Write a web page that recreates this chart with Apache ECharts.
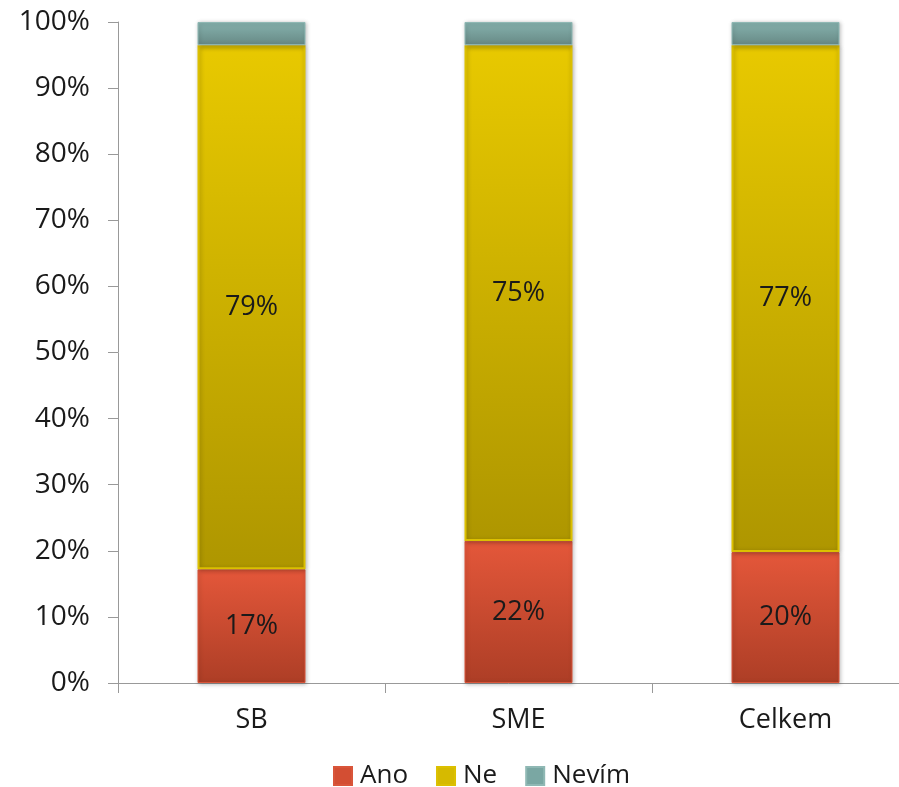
<!DOCTYPE html>
<html>
<head>
<meta charset="utf-8">
<script src="https://cdn.jsdelivr.net/npm/echarts@6/dist/echarts.min.js"></script>
<style>html,body{margin:0;padding:0;background:#fff}#c{width:899px;height:787px}</style>
</head>
<body>
<div id="c"></div>
<script>
var categories = ['SB', 'SME', 'Celkem'];
var ano = [17.2, 21.5, 19.8];
var ne = [79.3, 75.0, 76.7];
var nevim = [3.5, 3.5, 3.5];
var yTicks = [0, 10, 20, 30, 40, 50, 60, 70, 80, 90, 100];

var FONT = '"Open Sans", "Noto Sans", sans-serif';
function grad(top, bottom) {
  return new echarts.graphic.LinearGradient(0, 0, 0, 1, [
    {offset: 0, color: top}, {offset: 1, color: bottom}
  ]);
}
var chart = echarts.init(document.getElementById('c'));
var lbl = {
  show: true, position: 'inside', color: '#1a1a1a', fontSize: 27, fontFamily: FONT,
  formatter: function (p) { return Math.round(p.value) + '%'; }
};
chart.setOption({
  backgroundColor: '#ffffff',
  animation: false,
  grid: {left: 118, top: 22, bottom: 104, right: -20, outerBoundsMode: 'none', containLabel: false},
  legend: {
    top: 758, left: 328, itemWidth: 18, itemHeight: 18, itemGap: 28,
    textStyle: {fontSize: 26, fontFamily: FONT, color: '#1a1a1a', padding: [0, 0, 0, 3]},
    data: [
      {name: 'Ano', icon: 'rect', itemStyle: {color: '#d34e33'}},
      {name: 'Ne', icon: 'rect', itemStyle: {color: '#d6ba00'}},
      {name: 'Nevím', icon: 'rect', itemStyle: {color: '#7aa7a3'}}
    ]
  },
  xAxis: {
    type: 'category', data: categories,
    axisLine: {lineStyle: {color: '#999', width: 1}},
    axisTick: {show: true, length: 10, lineStyle: {color: '#999'}},
    axisLabel: {fontSize: 27, fontFamily: FONT, color: '#1a1a1a', margin: 24}
  },
  yAxis: {
    type: 'value', min: 0, max: 100, interval: 10,
    axisLine: {show: true, lineStyle: {color: '#999'}},
    axisTick: {show: true, inside: false, length: 10, lineStyle: {color: '#999'}},
    splitLine: {show: false},
    axisLabel: {
      fontSize: 28, fontFamily: FONT, color: '#1a1a1a', margin: 28,
      formatter: function (v) { return yTicks.indexOf(v) >= 0 ? v + '%' : ''; }
    }
  },
  series: [
    {name: 'Ano', type: 'bar', stack: 's', barWidth: 108, data: ano, label: lbl,
     itemStyle: {color: grad('#e4573a', '#ad3e26'), borderColor: '#d9553a', borderWidth: 1,
       shadowColor: 'rgba(0,0,0,0.25)', shadowBlur: 4, shadowOffsetX: 1, shadowOffsetY: 1}},
    {name: 'Ne', type: 'bar', stack: 's', barWidth: 108, data: ne, label: lbl,
     itemStyle: {color: grad('#e8c900', '#ae9600'), borderColor: '#dcc000', borderWidth: 2,
       shadowColor: 'rgba(0,0,0,0.25)', shadowBlur: 4, shadowOffsetX: 1, shadowOffsetY: 1}},
    {name: 'Nevím', type: 'bar', stack: 's', barWidth: 108, data: nevim, label: {show: false},
     itemStyle: {color: grad('#86b2ae', '#678985'), borderColor: '#8fb8b4', borderWidth: 1,
       shadowColor: 'rgba(0,0,0,0.25)', shadowBlur: 4, shadowOffsetX: 1, shadowOffsetY: 1}}
  ]
});
</script>
</body>
</html>
